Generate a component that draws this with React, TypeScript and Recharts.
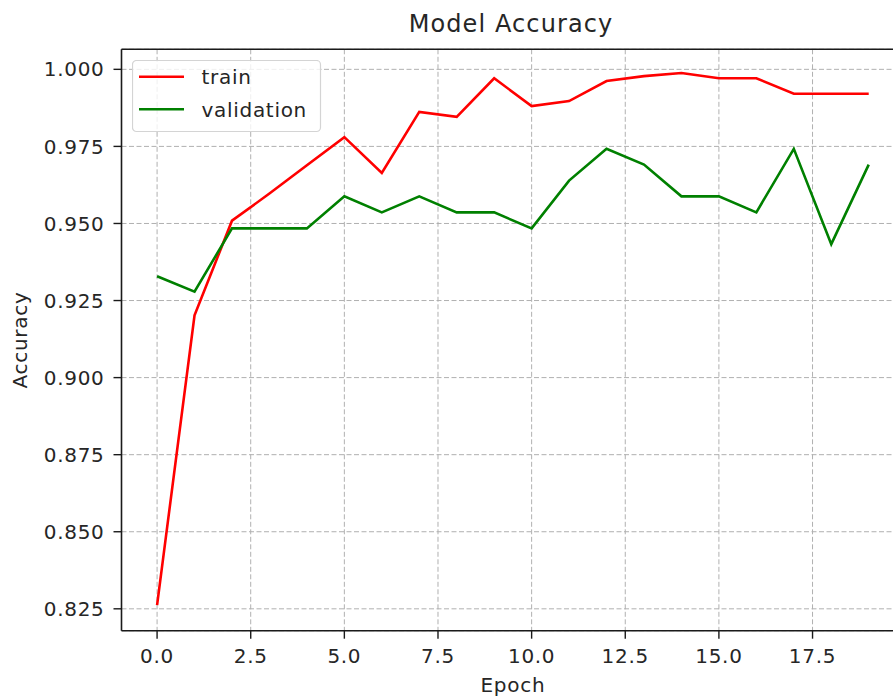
import React from 'react';
import { LineChart, Line, XAxis, YAxis, CartesianGrid, Legend, Label, ReferenceLine } from 'recharts';

const epochs = [0, 1, 2, 3, 4, 5, 6, 7, 8, 9, 10, 11, 12, 13, 14, 15, 16, 17, 18, 19];
const trainAcc = [0.8262, 0.9202, 0.9509, 0.9597, 0.9689, 0.9780, 0.9664, 0.9862, 0.9846, 0.9971, 0.9881, 0.9897, 0.9962, 0.9978, 0.9988, 0.9971, 0.9971, 0.9921, 0.9921, 0.9921];
const valAcc = [0.9329, 0.9279, 0.9484, 0.9484, 0.9484, 0.9588, 0.9536, 0.9588, 0.9536, 0.9536, 0.9484, 0.9639, 0.9742, 0.9691, 0.9588, 0.9588, 0.9536, 0.9742, 0.9433, 0.9691];
const xTicks = [0, 2.5, 5, 7.5, 10, 12.5, 15, 17.5];
const yTicks = [0.825, 0.85, 0.875, 0.9, 0.925, 0.95, 0.975, 1.0];
const xDomain = [-0.95, 19.95];
const yDomain = [0.8179, 1.0065];
const seriesNames = ['train', 'validation'];
const seriesColors = ['#ff0000', '#008000'];

const data = epochs.map((e, i) => ({ epoch: e, train: trainAcc[i], validation: valAcc[i] }));

const FONT = "'DejaVu Sans', sans-serif";
const TXT = '#262626';
const SPINE = '#1a1a1a';

const LegendBox = () => (
  <svg width={190} height={73} style={{ display: 'block' }}>
    <rect x={0.5} y={0.5} width={188} height={71} rx={4} ry={4} fill="#ffffff" fillOpacity={0.8} stroke="#d4d4d4" strokeWidth={1.2} />
    {seriesNames.map((n, i) => (
      <g key={n}>
        <line x1={7} x2={52} y1={16.7 + i * 32.6} y2={16.7 + i * 32.6} stroke={seriesColors[i]} strokeWidth={2.6} />
        <text x={69.5} y={24 + i * 32.6} fontFamily={FONT} fontSize={20} fill={TXT} letterSpacing={0.7}>{n}</text>
      </g>
    ))}
  </svg>
);

export default function App() {
  return (
    <div style={{ position: 'absolute', left: 0, top: 0, width: 893, height: 698, overflow: 'hidden', background: '#fff' }}>
      <LineChart width={930} height={698} data={data} margin={{ top: 49.3, right: 25.7, left: 0, bottom: 0 }}>
        <CartesianGrid stroke="#b0b0b0" strokeWidth={1} strokeDasharray="5 2.5" />
        <XAxis
          dataKey="epoch"
          type="number"
          domain={xDomain}
          ticks={xTicks}
          allowDataOverflow
          interval={0}
          tickFormatter={(v: number) => v.toFixed(1)}
          height={67.3}
          tickSize={8}
          tickMargin={10}
          axisLine={{ stroke: SPINE, strokeWidth: 1.6 }}
          tickLine={{ stroke: SPINE, strokeWidth: 1.4 }}
          tick={{ fill: TXT, fontSize: 20, fontFamily: FONT, letterSpacing: 0.7 }}
        >
          <Label
            content={(p: any) => {
              const vb = p.viewBox || {};
              return (
                <text x={vb.x + vb.width / 2} y={692} textAnchor="middle" fontFamily={FONT} fontSize={20} fill={TXT} letterSpacing={0.7}>
                  Epoch
                </text>
              );
            }}
          />
        </XAxis>
        <YAxis
          type="number"
          domain={yDomain}
          ticks={yTicks}
          allowDataOverflow
          interval={0}
          tickFormatter={(v: number) => v.toFixed(3)}
          width={121.5}
          tickSize={8}
          tickMargin={9}
          axisLine={{ stroke: SPINE, strokeWidth: 1.6 }}
          tickLine={{ stroke: SPINE, strokeWidth: 1.4 }}
          tick={{ fill: TXT, fontSize: 20, fontFamily: FONT, letterSpacing: 0.7 }}
        >
          <Label
            content={(p: any) => {
              const vb = p.viewBox || {};
              const cy = vb.y + vb.height / 2;
              return (
                <text x={27} y={cy} transform={`rotate(-90, 27, ${cy})`} textAnchor="middle" fontFamily={FONT} fontSize={20} fill={TXT} letterSpacing={0.7}>
                  Accuracy
                </text>
              );
            }}
          />
        </YAxis>
        <ReferenceLine y={yDomain[1]} ifOverflow="visible" stroke={SPINE} strokeWidth={1.6} />
        <Legend
          layout="vertical"
          align="center"
          verticalAlign="middle"
          wrapperStyle={{ position: 'absolute', left: 132, top: 60, width: 190, height: 73 }}
          content={() => <LegendBox />}
        />
        <Line type="linear" dataKey="train" name="train" stroke={seriesColors[0]} strokeWidth={2.6} dot={false} activeDot={false} isAnimationActive={false} />
        <Line type="linear" dataKey="validation" name="validation" stroke={seriesColors[1]} strokeWidth={2.6} dot={false} activeDot={false} isAnimationActive={false} />
      </LineChart>
      <svg width={893} height={50} style={{ position: 'absolute', left: 0, top: 0, pointerEvents: 'none' }}>
        <text x={511} y={31.7} textAnchor="middle" fontFamily={FONT} fontSize={24} fill={TXT} letterSpacing={1.1}>
          Model Accuracy
        </text>
      </svg>
    </div>
  );
}
